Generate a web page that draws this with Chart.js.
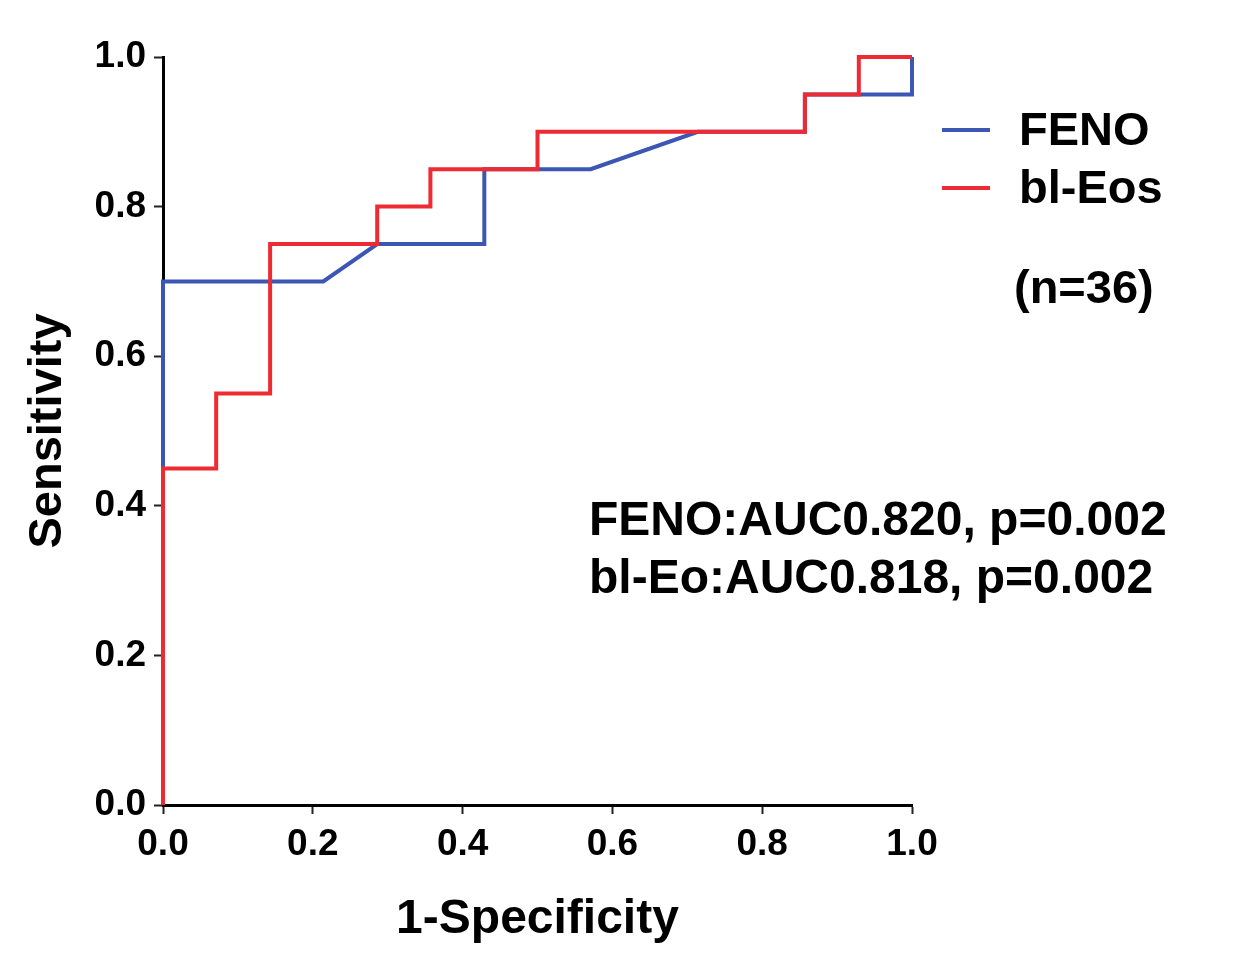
<!DOCTYPE html>
<html>
<head>
<meta charset="utf-8">
<script src="https://cdn.jsdelivr.net/npm/chart.js@4.4.1/dist/chart.umd.min.js"></script>
<style>
  body { margin: 0; background: #fff; }
  #wrap { width: 1247px; height: 962px; position: relative; }
</style>
</head>
<body>
<div id="wrap"><canvas id="rocChart"></canvas></div>
<script>
'use strict'

// ROC curves, x = 1-Specificity, y = Sensitivity
const fenoX = [0, 0, 0.214, 0.286, 0.429, 0.429, 0.571, 0.714, 0.857, 0.857, 1.0, 1.0];
const fenoY = [0, 0.70, 0.70, 0.75, 0.75, 0.85, 0.85, 0.90, 0.90, 0.95, 0.95, 1.0];

const eosX = [0, 0, 0.071, 0.071, 0.143, 0.143, 0.286, 0.286, 0.357, 0.357, 0.5, 0.5, 0.857, 0.857, 0.929, 0.929, 1.0];
const eosY = [0, 0.45, 0.45, 0.55, 0.55, 0.75, 0.75, 0.80, 0.80, 0.85, 0.85, 0.90, 0.90, 0.95, 0.95, 1.0, 1.0];

const seriesNames = ['FENO', 'bl-Eos'];
const seriesColors = ['#3b56b3', '#ee2a33'];
const sampleText = '(n=36)';
const aucLines = ['FENO:AUC0.820, p=0.002', 'bl-Eo:AUC0.818, p=0.002'];
const xTicks = [0, 0.2, 0.4, 0.6, 0.8, 1.0];
const yTicks = [0, 0.2, 0.4, 0.6, 0.8, 1.0];

const FONT = "'Liberation Sans', Arial, sans-serif";

function toPoints(xs, ys) {
  const pts = [];
  for (let i = 0; i < xs.length; i++) {
    pts.push({ x: xs[i], y: ys[i] });
  }
  return pts;
}

// legend + annotation text drawn on top
const textPlugin = {
  id: 'rocText',
  afterDraw(chart) {
    const ctx = chart.ctx;
    ctx.save();
    ctx.textBaseline = 'middle';
    ctx.textAlign = 'left';
    ctx.fillStyle = '#000';
    ctx.font = 'bold 47px ' + FONT;

    const legendY = [130, 188];
    for (let i = 0; i < seriesNames.length; i++) {
      ctx.strokeStyle = seriesColors[i];
      ctx.lineWidth = 4;
      ctx.beginPath();
      ctx.moveTo(942, legendY[i]);
      ctx.lineTo(990, legendY[i]);
      ctx.stroke();
      ctx.fillText(seriesNames[i], 1019, legendY[i] + 2);
    }
    ctx.fillText(sampleText, 1014, 290);

    ctx.font = 'bold 48px ' + FONT;
    ctx.fillText(aucLines[0], 589, 522);
    ctx.fillText(aucLines[1], 589, 580);
    ctx.restore();
  }
};

function createChart() {
  const ctx = document.getElementById('rocChart').getContext('2d');

  new Chart(ctx, {
    type: 'scatter',
    data: {
      datasets: [
        {
          label: seriesNames[0],
          data: toPoints(fenoX, fenoY),
          showLine: true,
          borderColor: seriesColors[0],
          borderWidth: 4,
          pointRadius: 0,
          tension: 0,
          order: 1,
          clip: false,
        },
        {
          label: seriesNames[1],
          data: toPoints(eosX, eosY),
          showLine: true,
          borderColor: seriesColors[1],
          borderWidth: 4,
          pointRadius: 0,
          tension: 0,
          order: 0,
          clip: false,
        },
      ],
    },
    options: {
      responsive: true,
      maintainAspectRatio: false,
      animation: false,
      layout: { padding: { left: 0, top: 57, right: 335, bottom: 0 } },
      plugins: {
        legend: { display: false },
        tooltip: { enabled: false },
      },
      scales: {
        x: {
          type: 'linear',
          min: 0,
          max: 1,
          afterBuildTicks(scale) {
            scale.ticks = xTicks.map(v => ({ value: v }));
          },
          afterFit(scale) { scale.height = 157; },
          grid: {
            drawOnChartArea: false,
            drawTicks: true,
            tickLength: 9,
            tickWidth: 2,
            tickColor: '#222',
          },
          border: { display: true, color: '#000', width: 3 },
          ticks: {
            color: '#000',
            padding: 9,
            font: { family: FONT, size: 37, weight: 'bold' },
            callback: v => Number(v).toFixed(1),
          },
          title: {
            display: true,
            text: '1-Specificity',
            color: '#000',
            font: { family: FONT, size: 48, weight: 'bold' },
            padding: { top: 0, bottom: 13 },
          },
        },
        y: {
          type: 'linear',
          min: 0,
          max: 1,
          afterBuildTicks(scale) {
            scale.ticks = yTicks.map(v => ({ value: v }));
          },
          afterFit(scale) { scale.width = 163; },
          grid: {
            drawOnChartArea: false,
            drawTicks: true,
            tickLength: 9,
            tickWidth: 2,
            tickColor: '#222',
          },
          border: { display: true, color: '#000', width: 3 },
          ticks: {
            color: '#000',
            padding: 8,
            font: { family: FONT, size: 37, weight: 'bold' },
            callback: v => Number(v).toFixed(1),
          },
          title: {
            display: true,
            text: 'Sensitivity',
            color: '#000',
            font: { family: FONT, size: 47, weight: 'bold' },
            padding: { top: 20, bottom: 0 },
          },
        },
      },
    },
    plugins: [textPlugin],
  });
}

createChart();
</script>
</body>
</html>
